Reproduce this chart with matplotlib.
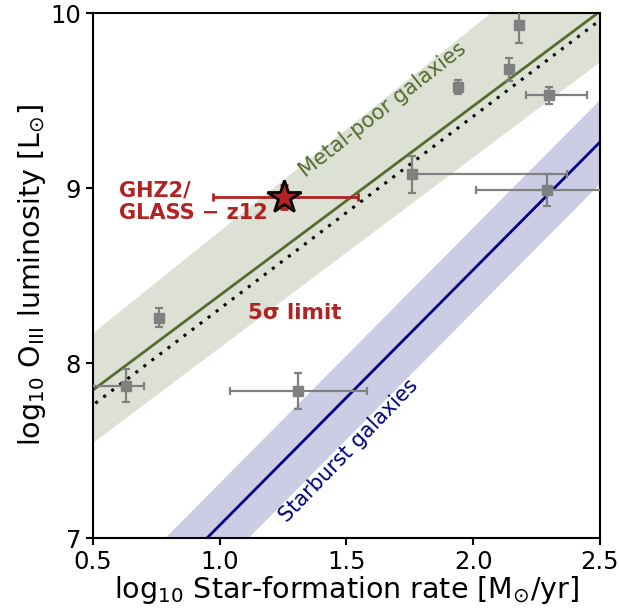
import numpy as np
import matplotlib.pyplot as plt

### 0. Data
# grey comparison galaxies
sfr = np.array([0.63, 0.76, 1.31, 1.76, 2.29, 1.94, 2.14, 2.18, 2.30])
lum = np.array([7.87, 8.26, 7.84, 9.08, 8.99, 9.58, 9.68, 9.93, 9.53])
sfr_lo = np.array([0.15, 0.0, 0.27, 0.0, 0.28, 0.0, 0.0, 0.0, 0.09])
sfr_hi = np.array([0.07, 0.0, 0.27, 0.61, 0.30, 0.0, 0.0, 0.0, 0.15])
lum_err = np.array([0.095, 0.055, 0.105, 0.105, 0.09, 0.04, 0.065, 0.10, 0.05])

# GHZ2 / GLASS-z12 limit
ghz2_sfr = 1.255
ghz2_lum = 8.95
ghz2_sfr_err = [[0.28], [0.29]]
ghz2_lum_err = 0.07

# relations: (slope, intercept)
metal_poor = (1.082, 7.305)
metal_poor_hi = (1.166, 7.587)
metal_poor_lo = (1.088, 6.999)
starburst = (1.46, 5.613)
starburst_band = 0.24
limit_line = (1.10, 7.21)

### 1. Variables
xx = np.array([0.0, 3.0])
def rel(p, x):
    return p[0]*x + p[1]

green = '#556b2f'
red = '#b22222'

### 2. Plot
fig = plt.figure(figsize=(6.19, 6.16), dpi=100)
ax = fig.add_axes([0.1502, 0.1266, 0.819, 0.852])

ax.fill_between(xx, rel(metal_poor_lo, xx), rel(metal_poor_hi, xx),
                color=green, alpha=0.2, lw=0, zorder=1)
ax.fill_between(xx, rel(starburst, xx) - starburst_band,
                rel(starburst, xx) + starburst_band,
                color='navy', alpha=0.2, lw=0, zorder=1)
ax.plot(xx, rel(metal_poor, xx), color=green, lw=2, zorder=2)
ax.plot(xx, rel(starburst, xx), color='navy', lw=2, zorder=2)
ax.plot(xx, rel(limit_line, xx), color='black', ls=(0, (1, 2.3)), lw=2.2,
        zorder=2)

ax.errorbar(sfr, lum, xerr=[sfr_lo, sfr_hi], yerr=lum_err, fmt='s',
            color='grey', ms=7.5, elinewidth=1.6, capsize=3, capthick=1.6,
            zorder=3)

ax.errorbar(ghz2_sfr, ghz2_lum, xerr=ghz2_sfr_err, yerr=ghz2_lum_err,
            fmt='none', ecolor=red, elinewidth=2, capsize=3, capthick=2,
            zorder=4)
ax.plot(ghz2_sfr, ghz2_lum, marker='*', ms=25, color=red, mec='black',
        mew=2, zorder=5)

ax.text(0.603, 8.92, 'GHZ2/\nGLASS \u2212 z12', color=red, fontsize=15,
        fontweight='bold', ha='left', va='center', linespacing=1.15)
ax.text(1.297, 8.286, '5\u03c3 limit', color=red, fontsize=15.5,
        fontweight='bold', ha='center', va='center')
ax.text(1.644, 9.446, 'Metal-poor galaxies', color=green, fontsize=15,
        rotation=38, ha='center', va='center', rotation_mode='anchor')
ax.text(1.511, 7.497, 'Starburst galaxies', color='navy', fontsize=15,
        rotation=46, ha='center', va='center', rotation_mode='anchor')

ax.set_xlim(0.5, 2.5)
ax.set_ylim(7, 10)
ax.set_xticks([0.5, 1.0, 1.5, 2.0, 2.5])
ax.set_yticks([7, 8, 9, 10])
ax.tick_params(labelsize=17.5, width=1.5, length=5)
for s in ax.spines.values():
    s.set_linewidth(1.5)
ax.set_xlabel(r'log$_{10}$ Star-formation rate [M$_{\odot}$/yr]',
              fontsize=20.5, labelpad=0)
ax.set_ylabel(r'log$_{10}$ O$_{\rm III}$ luminosity [L$_{\odot}$]',
              fontsize=20.5, labelpad=2)

fig.savefig('out.png', dpi=100)
